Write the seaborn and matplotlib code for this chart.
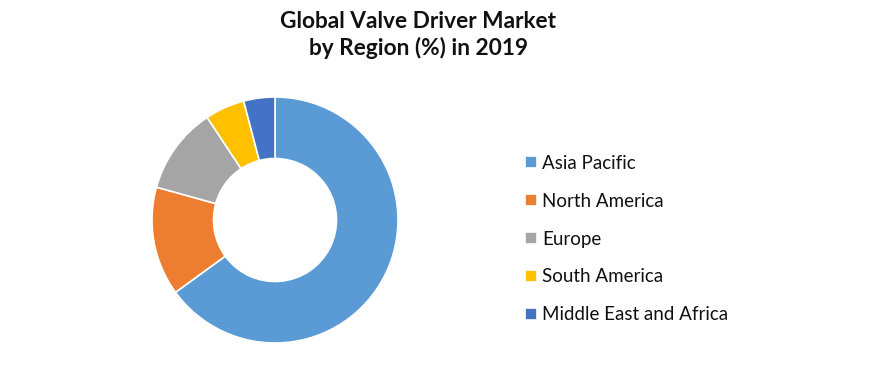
import matplotlib
matplotlib.use("Agg")
import matplotlib.pyplot as plt
import seaborn as sns

regions = ["Asia Pacific", "North America", "Europe", "South America", "Middle East and Africa"]
shares = [65.0, 14.3, 11.4, 5.2, 4.1]
colors = ["#5B9BD5", "#ED7D31", "#A5A5A5", "#FFC000", "#4472C4"]
title = "Global Valve Driver Market\nby Region (%) in 2019"

sns.set_theme(style="white")
plt.rcParams['font.family'] = ['Lato', 'DejaVu Sans']

W, H = 888, 384
fig = plt.figure(figsize=(W / 100, H / 100), dpi=100)
fig.patch.set_facecolor("white")

cx, cy, r = 275, 220, 123
ax = fig.add_axes([(cx - r) / W, (H - cy - r) / H, 2 * r / W, 2 * r / H])
palette = sns.color_palette(colors)
wedges, _ = ax.pie(shares, colors=palette, startangle=90, counterclock=False,
                   radius=1, wedgeprops=dict(width=0.5, edgecolor="white", linewidth=1.2))
ax.set_xlim(-1, 1)
ax.set_ylim(-1, 1)
ax.set_aspect("equal")
ax.axis("off")

fig.text(418 / W, 1 - 35 / H, title, ha="center", va="center",
         fontsize=16.3, fontweight="bold", color="#111111", linespacing=1.22)

leg = fig.legend(wedges, regions, loc="upper left",
                 bbox_to_anchor=(525 / W, 1 - 155 / H), frameon=False,
                 fontsize=13.5, handlelength=0.62, handleheight=0.62,
                 handletextpad=0.3, labelspacing=1.11, borderpad=0, borderaxespad=0)
for t in leg.get_texts():
    t.set_color("#111111")

fig.savefig("out.png", dpi=100, facecolor="white")
